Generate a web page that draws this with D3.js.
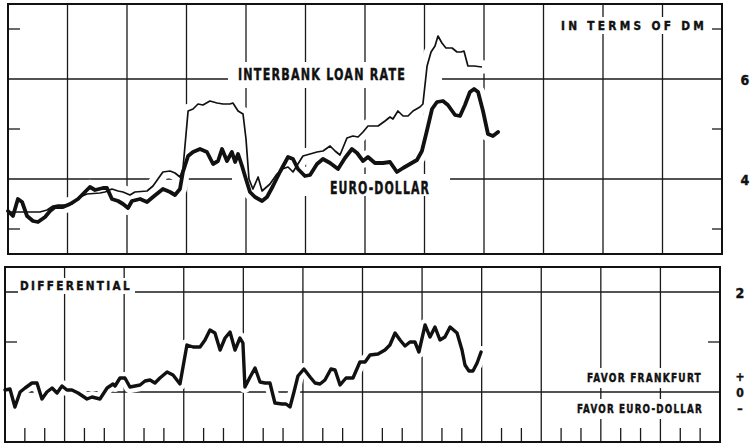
<!DOCTYPE html>
<html>
<head>
<meta charset="utf-8">
<script src="https://cdn.jsdelivr.net/npm/d3@7"></script>
<style>
  body { margin: 0; background: #fff; }
  svg { display: block; }
  .grid { stroke: #1a1a1a; stroke-width: 1.3; }
  .frame { fill: none; stroke: #111; stroke-width: 2; }
  .halo { fill: none; stroke: #fff; stroke-linejoin: round; stroke-linecap: round; }
  .lbl { font-family: "DejaVu Sans Condensed", "Liberation Sans Narrow", "DejaVu Sans", sans-serif; font-stretch: condensed; font-weight: bold; fill: #111; stroke: #111; stroke-width: 0.4; }
</style>
</head>
<body>
<svg width="755" height="444"></svg>
<script>
const svg = d3.select("svg");

// months since start of chart, rate in percent
const euroDollar = [[0,3.36],[0.25,3.26],[0.5,3.60],[0.71,3.54],[0.96,3.26],[1.26,3.16],[1.51,3.14],[1.87,3.24],[2.12,3.36],[2.37,3.44],[2.77,3.44],[3.13,3.50],[3.53,3.60],[3.88,3.74],[4.13,3.84],[4.39,3.78],[4.79,3.82],[4.99,3.82],[5.24,3.60],[5.55,3.56],[5.80,3.50],[6.05,3.42],[6.25,3.56],[6.66,3.60],[7.01,3.54],[7.31,3.64],[7.81,3.80],[8.17,3.74],[8.42,3.68],[8.67,3.80],[8.82,4.14],[9.08,4.46],[9.33,4.54],[9.68,4.60],[10.03,4.54],[10.34,4.30],[10.59,4.36],[10.79,4.60],[11.04,4.36],[11.29,4.54],[11.45,4.34],[11.60,4.50],[11.80,4.26],[11.95,4.06],[12.20,3.74],[12.45,3.64],[12.81,3.56],[13.06,3.64],[13.36,3.86],[13.71,4.14],[14.12,4.44],[14.37,4.40],[14.62,4.20],[14.97,4.06],[15.23,4.08],[15.58,4.30],[15.88,4.40],[16.24,4.32],[16.64,4.20],[16.99,4.42],[17.34,4.60],[17.60,4.52],[17.90,4.36],[18.15,4.44],[18.50,4.32],[18.91,4.32],[19.26,4.34],[19.61,4.14],[19.92,4.22],[20.27,4.30],[20.62,4.38],[20.87,4.56],[21.13,4.98],[21.38,5.40],[21.63,5.54],[21.93,5.56],[22.18,5.48],[22.54,5.28],[22.79,5.26],[23.04,5.48],[23.29,5.74],[23.50,5.80],[23.70,5.74],[23.95,5.36],[24.20,4.90],[24.45,4.86],[24.71,4.94]];

const interbank = [[0,3.34],[0.61,3.34],[1.61,3.34],[1.97,3.38],[2.27,3.46],[2.52,3.48],[2.87,3.48],[3.23,3.50],[3.63,3.64],[3.98,3.70],[4.64,3.72],[4.89,3.74],[5.24,3.80],[5.55,3.76],[5.80,3.74],[6.15,3.68],[6.40,3.74],[7.01,3.76],[7.31,3.86],[7.56,4.00],[7.81,4.14],[8.17,4.16],[8.42,4.12],[8.67,4.04],[8.82,4.20],[9.08,5.36],[9.33,5.40],[9.58,5.50],[9.83,5.48],[10.18,5.56],[10.54,5.52],[10.84,5.50],[11.19,5.50],[11.34,5.52],[11.60,5.36],[11.85,5.30],[12.00,4.80],[12.15,4.00],[12.35,3.80],[12.61,4.04],[12.81,3.76],[13.21,3.90],[13.56,4.10],[13.82,4.20],[14.12,4.24],[14.37,4.14],[14.62,4.30],[14.87,4.46],[15.23,4.50],[15.58,4.54],[15.88,4.56],[16.24,4.66],[16.49,4.56],[16.74,4.48],[17.09,4.82],[17.39,4.86],[17.65,4.84],[17.90,4.94],[18.15,5.06],[18.66,5.06],[19.01,5.16],[19.26,5.24],[19.41,5.20],[19.66,5.36],[19.92,5.26],[20.17,5.26],[20.42,5.36],[20.77,5.44],[20.92,5.50],[21.13,6.26],[21.33,6.54],[21.53,6.66],[21.68,6.86],[21.88,6.72],[22.08,6.62],[22.39,6.62],[22.64,6.54],[22.84,6.54],[22.99,6.56],[23.19,6.26],[23.50,6.26],[23.90,6.24]];

const differential = [[0,0.04],[0.25,0.06],[0.50,-0.30],[0.76,0.00],[1.01,0.08],[1.36,0.18],[1.61,0.18],[1.86,-0.14],[2.11,0.00],[2.37,0.08],[2.62,-0.02],[2.87,0.12],[3.12,0.04],[3.37,0.04],[3.68,-0.02],[4.13,-0.14],[4.38,-0.10],[4.78,-0.14],[5.14,0.08],[5.44,0.16],[5.54,0.12],[5.79,0.28],[6.04,0.28],[6.29,0.10],[6.55,0.12],[6.80,0.14],[7.05,0.22],[7.30,0.24],[7.55,0.18],[7.80,0.28],[8.16,0.40],[8.46,0.34],[8.81,0.16],[9.16,0.94],[9.47,0.90],[9.82,0.90],[10.07,1.04],[10.32,1.24],[10.57,1.18],[10.83,0.84],[11.08,1.08],[11.33,1.20],[11.58,0.84],[11.83,1.08],[11.98,0.98],[12.08,0.10],[12.34,0.30],[12.59,0.48],[12.84,0.20],[13.09,0.18],[13.34,0.18],[13.59,-0.22],[13.95,-0.24],[14.15,-0.24],[14.35,-0.30],[14.55,0.00],[14.75,0.32],[15.05,0.46],[15.36,0.30],[15.61,0.18],[15.86,0.16],[16.11,0.24],[16.41,0.46],[16.62,0.44],[16.87,0.14],[17.17,0.28],[17.52,0.28],[17.87,0.60],[18.13,0.60],[18.38,0.74],[18.78,0.76],[19.13,0.84],[19.38,0.94],[19.64,1.18],[19.89,1.04],[20.14,0.92],[20.39,1.00],[20.64,1.00],[20.84,0.80],[21.15,1.34],[21.40,1.10],[21.65,1.30],[21.90,1.04],[22.15,1.10],[22.41,1.30],[22.76,1.18],[23.01,0.84],[23.16,0.54],[23.36,0.42],[23.56,0.42],[23.77,0.58],[23.97,0.80]];

const gridMonths = d3.range(3, 36, 3);
const monthTicks = d3.range(1, 36).filter(m => m % 3 !== 0);
const topGrid = [4, 6];
const topMinor = [3, 5, 7];
const topTickLabels = ["4", "6"];
const botGrid = [0, 2];
const botMinor = [1];

const xTop = d3.scaleLinear().domain([0, 36]).range([8, 722]);
const xBot = d3.scaleLinear().domain([0, 36]).range([5, 720]);
const yTop = d3.scaleLinear().domain([2.5, 7.5]).range([254, 4]);
const yBot = d3.scaleLinear().domain([-1, 2.5]).range([442, 267]);

const lineTop = d3.line().x(d => xTop(d[0])).y(d => yTop(d[1]));
const lineBot = d3.line().x(d => xBot(d[0])).y(d => yBot(d[1]));

// grid
gridMonths.forEach(m => {
    svg.append("line").attr("class", "grid")
        .attr("x1", xTop(m)).attr("x2", xTop(m)).attr("y1", yTop(7.5)).attr("y2", yTop(2.5));
    svg.append("line").attr("class", "grid")
        .attr("x1", xBot(m)).attr("x2", xBot(m)).attr("y1", yBot(2.5)).attr("y2", yBot(-1));
});
topGrid.forEach(v => {
    svg.append("line").attr("class", "grid")
        .attr("x1", xTop(0)).attr("x2", xTop(36)).attr("y1", yTop(v)).attr("y2", yTop(v));
});
botGrid.forEach(v => {
    svg.append("line").attr("class", "grid")
        .attr("x1", xBot(0)).attr("x2", xBot(36)).attr("y1", yBot(v)).attr("y2", yBot(v));
});
topMinor.forEach(v => {
    svg.append("line").attr("class", "grid")
        .attr("x1", xTop(0)).attr("x2", xTop(0) + 12).attr("y1", yTop(v)).attr("y2", yTop(v));
    svg.append("line").attr("class", "grid")
        .attr("x1", xTop(36) - 10).attr("x2", xTop(36)).attr("y1", yTop(v)).attr("y2", yTop(v));
});
botMinor.forEach(v => {
    svg.append("line").attr("class", "grid")
        .attr("x1", xBot(0)).attr("x2", xBot(0) + 12).attr("y1", yBot(v)).attr("y2", yBot(v));
    svg.append("line").attr("class", "grid")
        .attr("x1", xBot(36) - 12).attr("x2", xBot(36)).attr("y1", yBot(v)).attr("y2", yBot(v));
});
monthTicks.forEach(m => {
    svg.append("line").attr("class", "grid")
        .attr("x1", xBot(m)).attr("x2", xBot(m)).attr("y1", yBot(-1) - 14).attr("y2", yBot(-1));
});

// white gaps where the curves cross the grid
svg.append("path").attr("class", "halo").attr("stroke-width", 14).attr("d", lineTop(interbank));
svg.append("path").attr("class", "halo").attr("stroke-width", 14).attr("d", lineTop(euroDollar));
svg.append("path").attr("class", "halo").attr("stroke-width", 12).attr("d", lineBot(differential));

// labels with paper behind them
function label(text, x, y, size, len, spacing, pad) {
    if (pad) {
        svg.append("rect").attr("fill", "#fff")
            .attr("x", pad[0]).attr("y", pad[1]).attr("width", pad[2]).attr("height", pad[3]);
    }
    svg.append("text").attr("class", "lbl")
        .attr("x", x).attr("y", y).attr("font-size", size)
        .attr("letter-spacing", spacing)
        .attr("textLength", len).attr("lengthAdjust", "spacingAndGlyphs")
        .text(text);
}

label("INTERBANK LOAN RATE", 238, 80, 15.5, 168, 1.5, [228, 62, 214, 26]);
label("EURO-DOLLAR", 330, 194, 17, 100, 1.5, [232, 174, 218, 22]);
label("IN TERMS OF DM", 561, 30, 12.5, 146, 3.5, [554, 17, 157, 17]);
label("DIFFERENTIAL", 20, 290, 12.5, 112, 2.5, [18, 278, 117, 16]);
label("FAVOR FRANKFURT", 587, 382, 12, 115, 1.5, [582, 368, 124, 20]);
label("FAVOR EURO-DOLLAR", 577, 413, 12, 126, 1.5, [572, 399, 135, 20]);

// series
svg.append("path").attr("fill", "none").attr("stroke", "#111").attr("stroke-width", 1.7)
    .attr("stroke-linejoin", "round").attr("d", lineTop(interbank));
svg.append("path").attr("fill", "none").attr("stroke", "#111").attr("stroke-width", 3.8)
    .attr("stroke-linejoin", "round").attr("stroke-linecap", "round").attr("d", lineTop(euroDollar));
svg.append("path").attr("fill", "none").attr("stroke", "#111").attr("stroke-width", 3.4)
    .attr("stroke-linejoin", "round").attr("stroke-linecap", "round").attr("d", lineBot(differential));

// frames
svg.append("rect").attr("class", "frame")
    .attr("x", xTop(0)).attr("y", yTop(7.5)).attr("width", xTop(36) - xTop(0)).attr("height", yTop(2.5) - yTop(7.5));
svg.append("rect").attr("class", "frame")
    .attr("x", xBot(0)).attr("y", yBot(2.5)).attr("width", xBot(36) - xBot(0)).attr("height", yBot(-1) - yBot(2.5));

// value labels on the right
topGrid.forEach((v, i) => {
    svg.append("text").attr("class", "lbl").attr("font-size", 14)
        .attr("x", 745).attr("y", yTop(v) + 6).attr("text-anchor", "middle").text(topTickLabels[i]);
});
svg.append("text").attr("class", "lbl").attr("font-size", 14)
    .attr("x", 740).attr("y", yBot(2) + 6).attr("text-anchor", "middle").text("2");
svg.append("text").attr("class", "lbl").attr("font-size", 12)
    .attr("x", 740).attr("y", yBot(0) - 11).attr("text-anchor", "middle").text("+");
svg.append("text").attr("class", "lbl").attr("font-size", 12)
    .attr("x", 740).attr("y", yBot(0) + 5).attr("text-anchor", "middle").text("0");
svg.append("text").attr("class", "lbl").attr("font-size", 12)
    .attr("x", 740).attr("y", yBot(0) + 21).attr("text-anchor", "middle").text("–");
</script>
</body>
</html>
